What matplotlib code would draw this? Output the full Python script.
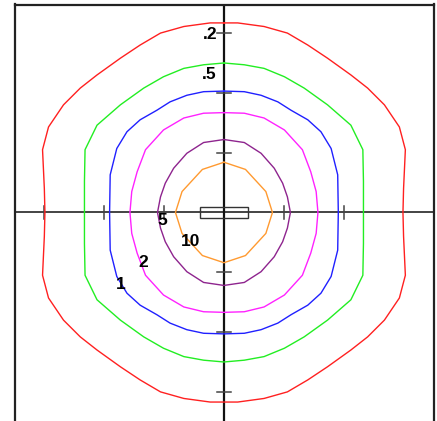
"""
Isolux diagram: closed contour lines around a luminaire, drawn on a plain cross of axes.
"""
import numpy as np
import matplotlib
matplotlib.use('Agg')
import matplotlib.pyplot as plt
from matplotlib.patches import Rectangle

# one quadrant of every contour, from the top of the vertical axis down to the horizontal axis
RED_X = [0.00, 0.23, 0.67, 1.06, 1.40, 1.73, 2.12, 2.40, 2.68, 2.93, 3.03, 3.00, 2.99]
RED_Y = [3.17, 3.17, 3.11, 3.00, 2.80, 2.58, 2.30, 2.08, 1.80, 1.43, 1.05, 0.40, 0.00]

GREEN_X = [0.00, 0.34, 0.67, 1.01, 1.34, 1.73, 2.12, 2.32, 2.33, 2.33]
GREEN_Y = [2.50, 2.47, 2.41, 2.27, 2.08, 1.80, 1.46, 1.05, 0.52, 0.00]

BLUE_X = [0.00, 0.34, 0.62, 0.90, 1.12, 1.40, 1.62, 1.79, 1.90, 1.91]
BLUE_Y = [2.03, 2.02, 1.96, 1.85, 1.71, 1.55, 1.35, 1.07, 0.63, 0.00]

MAGENTA_X = [0.00, 0.34, 0.67, 1.01, 1.31, 1.45, 1.54, 1.57]
MAGENTA_Y = [1.67, 1.66, 1.58, 1.38, 1.05, 0.68, 0.35, 0.00]

PURPLE_X = [0.00, 0.34, 0.62, 0.84, 0.98, 1.06, 1.11]
PURPLE_Y = [1.22, 1.17, 0.99, 0.74, 0.49, 0.26, 0.00]

ORANGE_X = [0.00, 0.36, 0.70, 0.81]
ORANGE_Y = [0.84, 0.72, 0.35, 0.00]

LEVEL_LABELS = ['.2', '.5', '1', '2', '5', '10']
TICKS_X = [-3, -2, -1, 1, 2]
TICKS_Y = [-3, -2, -1, 1, 2, 3]


def full_loop(xq, yq):
    """Mirror one quadrant into a closed curve (the diagram is symmetric in both axes)."""
    xq = np.asarray(xq)
    yq = np.asarray(yq)
    xs = np.concatenate([-xq, -xq[::-1], xq, xq[::-1]])
    ys = np.concatenate([yq, -yq[::-1], -yq, yq[::-1]])
    return xs, ys


def main():
    fig = plt.figure(figsize=(4.37, 4.21), dpi=100)
    ax = fig.add_axes([15 / 437, 0, (433.5 - 15) / 437, (421 - 4.5) / 421])
    ax.set_xlim(-3.49, 3.50)
    ax.set_ylim(-3.487, 3.478)
    ax.set_xticks([])
    ax.set_yticks([])
    for side in ['left', 'top', 'right']:
        ax.spines[side].set_linewidth(1.6)
        ax.spines[side].set_color('#222222')
    ax.spines['bottom'].set_visible(False)

    # cross of axes with unit ticks
    ax.axhline(0, color='#111111', lw=1.1, zorder=1)
    ax.axvline(0, color='#111111', lw=1.6, zorder=1)
    for t in TICKS_X:
        ax.plot([t, t], [-0.11, 0.11], color='#444444', lw=1.1, zorder=1)
    for t in TICKS_Y:
        ax.plot([-0.11, 0.11], [t, t], color='#444444', lw=1.1, zorder=1)

    # luminaire outline
    ax.add_patch(Rectangle((-0.40, -0.085), 0.81, 0.17, fill=False,
                           edgecolor='#333333', lw=1.0, zorder=3))

    curves = [
        (RED_X, RED_Y, '#ff2020'),
        (GREEN_X, GREEN_Y, '#22ee22'),
        (BLUE_X, BLUE_Y, '#2020ff'),
        (MAGENTA_X, MAGENTA_Y, '#ff22ff'),
        (PURPLE_X, PURPLE_Y, '#8e248e'),
        (ORANGE_X, ORANGE_Y, '#ff9a30'),
    ]
    for xq, yq, color in curves:
        xs, ys = full_loop(xq, yq)
        ax.plot(xs, ys, color=color, lw=1.0, zorder=2)

    font = dict(family=['Liberation Sans', 'DejaVu Sans'], fontsize=12.5,
                fontweight='bold', color='black', zorder=4)
    ax.text(-0.10, 2.98, LEVEL_LABELS[0], ha='right', va='center', **font)
    ax.text(-0.12, 2.30, LEVEL_LABELS[1], ha='right', va='center', **font)
    ax.text(-1.73, -1.21, LEVEL_LABELS[2], ha='center', va='center', **font)
    ax.text(-1.35, -0.84, LEVEL_LABELS[3], ha='center', va='center', **font)
    ax.text(-1.03, -0.14, LEVEL_LABELS[4], ha='center', va='center', **font)
    ax.text(-0.55, -0.49, LEVEL_LABELS[5], ha='center', va='center', **font)

    fig.savefig('out.png', dpi=100)


if __name__ == '__main__':
    main()
